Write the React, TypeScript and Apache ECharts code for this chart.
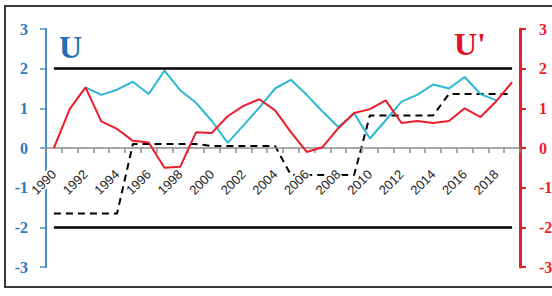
import React, { useEffect, useRef } from "react";
import * as echarts from "echarts";

const years: string[] = [
  "1990", "1991", "1992", "1993", "1994", "1995", "1996", "1997", "1998", "1999",
  "2000", "2001", "2002", "2003", "2004", "2005", "2006", "2007", "2008", "2009",
  "2010", "2011", "2012", "2013", "2014", "2015", "2016", "2017", "2018", "2019",
];

// U (forward statistic), cyan
const uValues: (number | null)[] = [
  null, null, 1.53, 1.34, 1.47, 1.67, 1.36, 1.95, 1.45, 1.14,
  0.68, 0.13, 0.57, 1.02, 1.5, 1.72, 1.34, 0.92, 0.53, 0.87,
  0.24, 0.7, 1.17, 1.34, 1.6, 1.5, 1.79, 1.36, 1.2, null,
];

// U' (backward statistic), red
const uPrimeValues: number[] = [
  0, 0.98, 1.53, 0.67, 0.48, 0.18, 0.14, -0.5, -0.47, 0.4,
  0.38, 0.8, 1.06, 1.23, 0.95, 0.4, -0.1, 0.02, 0.5, 0.88,
  0.98, 1.2, 0.63, 0.68, 0.63, 0.68, 1.0, 0.78, 1.18, 1.66,
];

// dashed step series
const stepValues: number[] = [
  -1.65, -1.65, -1.65, -1.65, -1.65, 0.1, 0.1, 0.1, 0.1, 0.1,
  0.05, 0.05, 0.05, 0.05, 0.05, -0.68, -0.68, -0.68, -0.68, -0.68,
  0.82, 0.82, 0.82, 0.82, 0.82, 1.36, 1.36, 1.36, 1.36, 1.36,
];

const thresholds: number[] = [2, -2];

const SERIF = "'Liberation Serif', 'Times New Roman', serif";
const SANS = "'Liberation Sans', Arial, sans-serif";

const GRID_LEFT = 46;
const GRID_RIGHT = 32;
const GRID_TOP = 29;
const GRID_BOTTOM = 29;
const HEIGHT = 296;
const Y_MIN = -3;
const Y_MAX = 3;

export default function App() {
  const ref = useRef<HTMLDivElement>(null);

  useEffect(() => {
    if (!ref.current) return;
    const chart = echarts.init(ref.current, null, { renderer: "svg" });
    const first = years[0];
    const last = years[years.length - 1];
    const plotH = HEIGHT - GRID_TOP - GRID_BOTTOM;
    // height of the upper half (from the top of the plot to the zero line)
    const upperH = plotH * (Y_MAX - 0) / (Y_MAX - Y_MIN);
    chart.setOption({
      animation: false,
      backgroundColor: "#ffffff",
      grid: [
        { left: GRID_LEFT, right: GRID_RIGHT, top: GRID_TOP, bottom: GRID_BOTTOM, containLabel: false, outerBoundsMode: "none" },
        { left: GRID_LEFT, right: GRID_RIGHT, top: GRID_TOP, height: upperH, containLabel: false, outerBoundsMode: "none" },
      ],
      graphic: [
        {
          type: "rect",
          shape: { x: 5, y: 6, width: 570, height: 281 },
          style: { fill: "none", stroke: "#3a3a3a", lineWidth: 2 },
          silent: true,
          z: 0,
        },
        {
          type: "text",
          left: 59,
          top: 31,
          style: { text: "U", fill: "#1f6fb0", font: `bold 32px ${SERIF}` },
          z: 10,
        },
        {
          type: "text",
          left: 454,
          top: 28,
          style: { text: "U'", fill: "#e3141e", font: `bold 32px ${SERIF}` },
          z: 10,
        },
      ],
      xAxis: [
        {
          type: "category",
          data: years,
          gridIndex: 0,
          boundaryGap: true,
          show: false,
        },
        {
          type: "category",
          data: years,
          gridIndex: 1,
          boundaryGap: true,
          position: "bottom",
          z: 3,
          axisLine: { show: true, onZero: false, lineStyle: { color: "#8c8c8c", width: 1.5 } },
          axisTick: { show: true, interval: 0, alignWithLabel: false, length: 5, inside: false, lineStyle: { color: "#8c8c8c", width: 1.5 } },
          axisLabel: {
            interval: 1,
            rotate: 45,
            margin: 24,
            color: "#262626",
            fontFamily: SANS,
            fontSize: 13,
            backgroundColor: "#ffffff",
          },
          splitLine: { show: false },
        },
      ],
      yAxis: [
        {
          type: "value",
          gridIndex: 0,
          min: Y_MIN,
          max: Y_MAX,
          interval: 1,
          position: "left",
          axisLine: { show: true, lineStyle: { color: "#4a8fd0", width: 2 } },
          axisTick: { show: true, length: 6, lineStyle: { color: "#4a8fd0", width: 1.5 } },
          axisLabel: { margin: 18, color: "#2a78bf", fontFamily: SERIF, fontWeight: "bold", fontSize: 16 },
          splitLine: { show: false },
        },
        {
          type: "value",
          gridIndex: 0,
          min: Y_MIN,
          max: Y_MAX,
          interval: 1,
          position: "right",
          axisLine: { show: true, lineStyle: { color: "#ee1c25", width: 3 } },
          axisTick: { show: true, length: 6, lineStyle: { color: "#ee1c25", width: 2 } },
          axisLabel: { margin: 19, color: "#ee1c25", fontFamily: SERIF, fontWeight: "bold", fontSize: 16 },
          splitLine: { show: false },
        },
        {
          type: "value",
          gridIndex: 1,
          min: 0,
          max: Y_MAX,
          show: false,
        },
      ],
      series: [
        {
          name: "thresholds",
          type: "line",
          data: [],
          z: 2,
          markLine: {
            silent: true,
            symbol: ["none", "none"],
            label: { show: false },
            lineStyle: { color: "#000000", width: 2.5, type: "solid" },
            data: thresholds.map((t) => [
              { coord: [first, t] },
              { coord: [last, t] },
            ]),
          },
        },
        {
          name: "step",
          type: "line",
          data: stepValues,
          showSymbol: false,
          symbol: "none",
          lineStyle: { color: "#000000", width: 2, type: [7, 5] },
          z: 2,
        },
        {
          name: "U",
          type: "line",
          data: uValues,
          showSymbol: false,
          symbol: "none",
          connectNulls: false,
          lineStyle: { color: "#2cb8d2", width: 2 },
          z: 4,
        },
        {
          name: "U'",
          type: "line",
          data: uPrimeValues,
          showSymbol: false,
          symbol: "none",
          lineStyle: { color: "#ec1c2a", width: 2 },
          z: 5,
        },
      ],
    });
    return () => chart.dispose();
  }, []);

  return (
    <div
      ref={ref}
      style={{ position: "absolute", left: 0, top: 0, width: 552, height: 296 }}
    />
  );
}
